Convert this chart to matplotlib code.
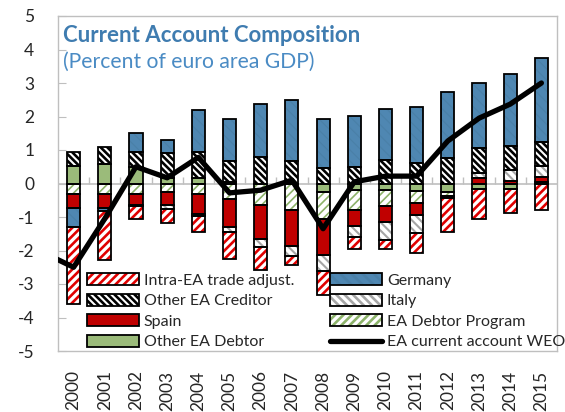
import numpy as np
import matplotlib
matplotlib.use("Agg")
import matplotlib.pyplot as plt
from matplotlib.patches import Patch

plt.rcParams['font.family'] = ['Lato', 'DejaVu Sans']

years = np.arange(2000, 2016)
year_labels = [str(y) for y in years]

# component series (percent of euro area GDP)
other_debtor = [0.53, 0.57, 0.50, 0.15, 0.17, 0.05, 0.0, 0.0, -0.25, -0.18, -0.18, -0.22, -0.25, -0.15, -0.15, 0.05]
ea_debtor_prog = [-0.32, -0.30, -0.30, -0.25, -0.32, -0.45, -0.65, -0.80, -0.80, -0.60, -0.50, -0.36, -0.12, 0.0, 0.0, 0.0]
spain = [-0.40, -0.43, -0.35, -0.40, -0.58, -0.85, -1.00, -1.07, -1.09, -0.50, -0.47, -0.37, -0.05, 0.17, 0.07, 0.13]
italy = [0.0, 0.0, -0.03, -0.10, -0.08, -0.15, -0.25, -0.28, -0.47, -0.32, -0.55, -0.52, 0.0, 0.15, 0.33, 0.35]
other_creditor = [0.41, 0.52, 0.44, 0.75, 0.77, 0.62, 0.80, 0.67, 0.45, 0.50, 0.70, 0.60, 0.75, 0.73, 0.72, 0.72]
germany = [-0.58, -0.09, 0.58, 0.40, 1.25, 1.27, 1.57, 1.82, 1.49, 1.52, 1.51, 1.69, 1.99, 1.96, 2.14, 2.50]
intra = [-2.29, -1.47, -0.37, -0.42, -0.47, -0.79, -0.67, -0.27, -0.73, -0.37, -0.25, -0.60, -1.03, -0.90, -0.73, -0.80]

# WEO current account line (includes 1999 point, clipped at the left edge)
line_years = np.arange(1999, 2016)
weo = [-2.05, -2.50, -1.05, 0.50, 0.17, 0.78, -0.28, -0.20, 0.10, -1.35, 0.05, 0.22, 0.22, 1.27, 1.95, 2.37, 3.00]

BLUE = '#4F87B2'
RED = '#C00000'
GREEN = '#9BBB7A'

series = [
    # (name, values, face, hatch, hatchcolor, hatch lw)
    ('Other EA Debtor', other_debtor, GREEN, None, GREEN, 1.0),
    ('EA Debtor Program', ea_debtor_prog, 'white', '////', '#8DB36A', 1.2),
    ('Spain', spain, RED, None, RED, 1.0),
    ('Italy', italy, 'white', '\\\\\\\\', '#A6A6A6', 1.5),
    ('Other EA Creditor', other_creditor, 'white', '\\\\\\\\\\', 'black', 1.9),
    ('Germany', germany, BLUE, '\\\\\\', '#4A80A8', 0.8),
    ('Intra-EA trade adjust.', intra, 'white', '////', '#E00000', 1.9),
]

fig = plt.figure(figsize=(5.65, 4.12), dpi=100)
ax = fig.add_axes([58/565, 61/412, 499/565, 335/412])

width = 0.42
pos_base = np.zeros(len(years))
neg_base = np.zeros(len(years))
handles = {}
for name, vals, face, hatch, hcol, hlw in series:
    v = np.array(vals, dtype=float)
    bottoms = np.where(v >= 0, pos_base, neg_base)
    plt.rcParams['hatch.linewidth'] = hlw
    ax.bar(years, v, bottom=bottoms, width=width, color=face, hatch=hatch,
           edgecolor=hcol, linewidth=0, zorder=2)
    mask = v != 0
    ax.bar(years[mask], v[mask], bottom=bottoms[mask], width=width, fill=False,
           edgecolor='black', linewidth=1.3, zorder=3)
    pos_base = pos_base + np.where(v > 0, v, 0)
    neg_base = neg_base + np.where(v < 0, v, 0)
    hp = Patch(facecolor=face, hatch=hatch, edgecolor=hcol, linewidth=0)
    bp = Patch(fill=False, edgecolor='black', linewidth=1.3)
    handles[name] = (hp, bp)

ln, = ax.plot(line_years, weo, color='black', lw=3.8, solid_joinstyle='round',
              solid_capstyle='round', zorder=5)

# zero line with category tick marks
ax.axhline(0, color='#BFBFBF', lw=1.2, zorder=1)
ax.vlines(years[:-1] + 0.5, 0, 0.18, color='#BFBFBF', lw=1.0, zorder=1)

ax.set_xlim(1999.5, 2015.5)
ax.set_ylim(-5, 5)
ax.set_yticks(np.arange(-5, 6, 1))
ax.set_yticklabels([str(t) for t in range(-5, 6)])
ax.set_xticks(years)
ax.set_xticklabels(year_labels, rotation=90)
ax.tick_params(axis='y', direction='in', length=6, color='#BFBFBF', pad=17,
               labelsize=12.5, labelcolor='#262626')
ax.tick_params(axis='x', length=0, pad=14, labelsize=12.5, labelcolor='#262626')
for s in ax.spines.values():
    s.set_color('#BFBFBF')
    s.set_linewidth(1.0)

ax.text(0.01, 0.943, 'Current Account Composition', transform=ax.transAxes,
        fontsize=16, fontweight='bold', color='#3F7CB0', va='center', ha='left')
ax.text(0.01, 0.863, '(Percent of euro area GDP)', transform=ax.transAxes,
        fontsize=15.2, color='#4A8BC4', va='center', ha='left')

order = ['Intra-EA trade adjust.', 'Other EA Creditor', 'Spain', 'Other EA Debtor',
         'Germany', 'Italy', 'EA Debtor Program']
hl = [handles[n] for n in order] + [ln]
labels = order + ['EA current account WEO']
leg = ax.legend(hl, labels, ncol=2, loc='lower left', bbox_to_anchor=(0.033, -0.033),
                frameon=False, fontsize=11.5, handlelength=3.25, handleheight=0.75,
                handletextpad=0.3, labelspacing=0.38, columnspacing=2.25,
                borderpad=0.3)
for t in leg.get_texts():
    t.set_color('#262626')

fig.savefig('out.png', dpi=100)
